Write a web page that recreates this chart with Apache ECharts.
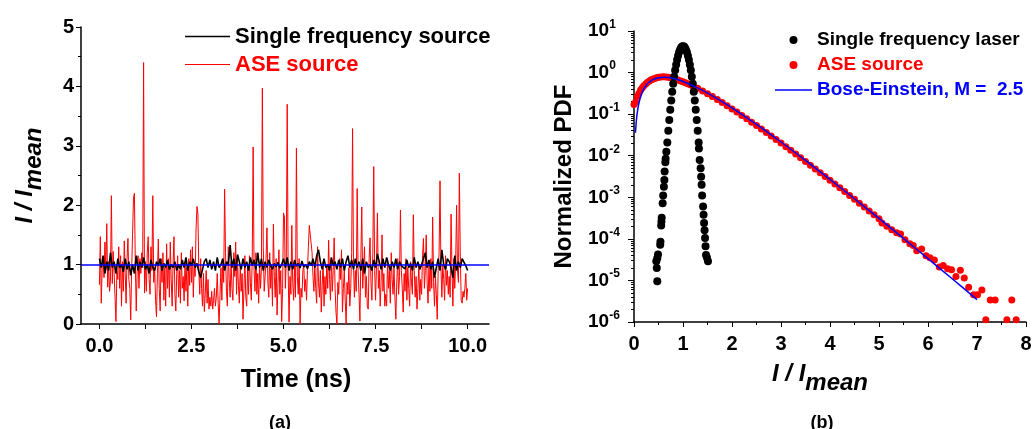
<!DOCTYPE html>
<html><head><meta charset="utf-8">
<script src="https://cdn.jsdelivr.net/npm/echarts@6/dist/echarts.min.js"></script>
<style>html,body{margin:0;padding:0;background:#fff}#c{width:1035px;height:429px}</style>
</head><body><div id="c"></div>
<script>
// ---------- Panel (a): time traces ----------
const aseStep = 0.025; // ns between ASE samples
const aseValues = [
  0.66,1.47,0.35,0.95,1.12,0.78,1.38,0.92,1.69,0.62,1.05,0.55,0.72,2.16,0.68,1.22,0.85,0.45,0.04,0.9,
  0.75,1.3,0.6,1.15,0.3,1.05,0.55,1.4,0.85,0.35,1.1,1.44,0.75,0.6,0.07,0.9,1.5,2.12,2.2,1.0,
  0.22,0.9,1.15,0.6,1.1,0.85,1.2,0.95,4.40,0.52,1.05,0.55,1.2,1.47,0.75,0.5,1.3,0.9,2.16,0.7,
  0.95,0.4,0.12,0.85,1.43,0.6,0.22,1.1,0.7,1.2,0.4,0.95,0.3,1.35,0.6,1.1,0.45,1.38,0.75,0.3,
  1.0,1.47,0.5,0.22,0.85,1.15,0.45,0.9,0.35,1.2,0.6,0.8,0.39,1.05,0.55,0.95,0.3,1.1,0.65,1.25,
  0.7,1.3,0.45,1.0,0.8,1.6,1.98,1.85,0.9,0.5,1.1,0.6,0.3,0.85,0.21,0.5,0.9,0.35,0.75,0.25,
  0.45,0.3,0.55,0.25,0.4,0.6,0.3,0.45,0.85,0.35,0.0,0.5,0.95,0.4,1.1,0.7,2.27,1.2,0.55,0.3,
  1.3,0.75,0.45,1.05,0.6,0.4,1.2,0.8,1.38,0.5,1.1,0.65,0.35,1.0,0.55,0.85,0.08,0.6,1.15,0.45,
  0.3,0.95,0.5,1.15,0.7,0.4,1.1,2.98,0.9,0.55,1.2,0.5,0.85,0.35,1.0,0.6,0.95,3.97,1.3,0.55,
  0.8,1.1,1.62,0.7,0.45,1.2,0.6,1.0,0.3,1.68,0.8,0.45,1.1,0.15,0.7,1.25,0.5,0.9,0.04,0.6,
  1.87,1.8,0.6,1.1,3.70,0.9,0.03,0.8,0.5,1.66,0.7,0.4,1.0,0.45,2.96,0.8,0.5,1.1,0.0,0.6,
  0.45,0.9,1.0,0.55,0.75,0.4,0.9,1.3,1.66,1.69,1.65,1.2,0.8,0.55,1.0,0.6,0.35,1.3,0.7,0.45,
  0.9,0.2,0.65,1.05,0.3,0.8,0.5,1.0,0.6,1.41,0.75,0.4,1.1,0.55,0.9,1.45,0.6,0.2,0.0,0.7,
  0.5,1.1,0.75,1.25,0.2,0.6,0.9,0.4,0.0,0.7,0.5,0.95,0.3,0.6,1.2,3.29,1.0,0.45,0.9,0.55,
  2.28,0.9,0.5,0.05,1.1,1.97,0.6,0.95,1.3,0.45,0.8,0.3,0.25,1.1,1.45,0.7,0.4,1.2,2.65,0.9,
  0.4,1.0,1.87,0.6,0.9,0.3,0.7,1.5,0.55,0.85,0.3,0.5,0.3,1.1,0.6,0.9,0.35,1.2,0.75,0.5,
  0.95,0.45,0.08,0.7,1.1,0.5,0.8,1.92,0.9,0.6,0.2,0.85,0.55,1.1,0.4,0.95,0.6,0.3,1.05,0.7,
  0.5,1.84,0.9,0.45,0.8,0.25,0.6,1.0,0.4,0.75,0.5,1.15,1.44,0.6,0.9,1.5,0.7,0.35,1.0,0.55,
  1.1,0.6,1.8,0.7,0.3,0.8,0.5,0.08,0.9,1.2,2.41,0.95,0.45,1.0,0.75,0.4,1.15,0.65,0.9,0.5,
  0.8,0.45,1.85,0.9,0.3,1.1,0.6,1.05,2.0,0.9,0.7,2.54,1.2,0.4,0.35,0.55,0.45,0.6,0.85,0.4,
  0.6
];
const singleStep = 0.05; // ns between single-frequency samples
const singleValues = [
  1.1,0.95,1.15,0.85,1.05,0.9,1.2,0.95,1.05,0.85,1.1,0.95,1.0,0.88,1.1,0.92,1.05,0.82,1.0,0.85,
  1.15,0.9,1.05,0.95,1.12,0.92,1.0,0.85,1.08,0.95,0.9,1.05,0.98,1.1,0.9,1.02,0.95,1.08,0.92,1.0,
  0.95,1.05,0.9,1.0,0.92,1.08,0.95,1.12,0.9,1.05,0.98,1.1,0.95,1.02,0.88,0.78,0.92,1.05,1.1,0.95,
  1.08,0.92,1.05,0.9,1.12,0.95,1.0,1.1,0.9,1.05,1.0,1.33,0.95,1.1,0.9,1.17,1.05,0.92,1.1,0.95,
  1.05,0.9,1.12,0.98,1.08,0.92,1.2,0.95,1.1,0.9,1.05,0.95,1.08,0.98,0.92,1.02,0.96,1.04,0.94,1.0,
  1.1,0.95,1.12,0.9,1.05,0.92,1.08,0.97,1.02,0.94,1.06,0.96,1.0,0.93,1.05,0.98,1.1,0.95,1.15,1.25,
  1.05,0.92,1.1,0.95,1.0,0.9,1.12,0.98,1.05,0.92,1.08,0.95,1.1,0.9,1.05,1.15,0.95,1.08,0.92,1.1,
  0.95,1.05,0.9,1.1,0.85,1.05,0.95,1.0,0.9,1.08,0.95,1.18,1.05,0.92,1.1,0.95,1.12,1.0,0.9,1.05,
  0.95,1.1,0.92,1.05,0.98,1.0,0.93,1.08,0.95,1.02,0.9,1.12,0.95,1.05,0.92,1.0,0.97,1.2,0.95,1.08,
  0.92,1.05,0.78,0.95,1.1,0.9,1.25,1.0,0.92,1.1,1.05,0.95,0.78,1.15,0.9,1.05,0.95,1.1,1.12,0.98,
  0.9
];
const meanLevel = 1;
const timeLabels = [0, 2.5, 5, 7.5, 10];
const timeTicks = [0, 1.25, 2.5, 3.75, 5, 6.25, 7.5, 8.75, 10];

// ---------- Panel (b): PDFs ----------
const laserPoints = [
  [0.475,9.5e-6],[0.455,2.9e-5],[0.465,2.0e-5],[0.475,3.4e-5],[0.49,4.2e-5],[0.535,7.2e-5],[0.54,8.5e-5],
  [0.555,2.1e-4],[0.56,2.6e-4],[0.565,3.2e-4],[0.585,7.2e-4],[0.595,1.1e-3],[0.61,1.8e-3],[0.62,2.6e-3],
  [0.625,4.2e-3],[0.64,7.0e-3],[0.645,8.5e-3],[0.66,0.0125],
  [0.68,0.0208],[0.70,0.0396],[0.72,0.0725],[0.74,0.127],[0.76,0.214],[0.78,0.345],[0.80,0.535],
  [0.82,0.795],[0.84,1.13],[0.86,1.55],[0.88,2.03],[0.90,2.55],[0.92,3.08],[0.94,3.56],[0.96,3.96],
  [0.98,4.21],[1.00,4.3],[1.02,4.21],[1.04,3.96],[1.06,3.56],[1.08,3.08],[1.10,2.55],[1.12,2.03],
  [1.14,1.55],[1.16,1.13],[1.18,0.795],[1.20,0.535],[1.22,0.345],[1.24,0.214],[1.26,0.127],[1.28,0.0725],
  [1.30,0.0396],[1.32,0.0208],
  [1.325,0.015],[1.34,7.9e-3],[1.36,5e-3],[1.37,3.1e-3],[1.38,2e-3],[1.39,1.1e-3],[1.41,6e-4],[1.42,3.8e-4],
  [1.43,2.4e-4],[1.44,1.6e-4],[1.45,1.05e-4],[1.46,6.6e-5],[1.47,4.1e-5],[1.49,3.5e-5],[1.51,2.9e-5]
];
const asePdfPoints = [
  [0.0,0.17],[0.035,0.2],[0.07,0.27],[0.1,0.32],[0.135,0.38],[0.17,0.43],[0.2,0.48],[0.24,0.53],[0.27,0.58],
  [0.31,0.62],[0.34,0.66],[0.38,0.69],[0.42,0.72],[0.46,0.75],[0.5,0.77],[0.55,0.78],[0.6,0.79],[0.65,0.78],
  [0.7,0.77],[0.75,0.75],[0.8,0.72],[0.85,0.69],[0.9,0.66],[0.95,0.63],[1.0,0.6],[1.05,0.57],[1.1,0.54],
  [1.15,0.51],[1.2,0.475],[1.3,0.42],[1.4,0.36],[1.5,0.31],[1.6,0.265],[1.7,0.225],[1.8,0.19],[1.9,0.16],
  [2.0,0.133],[2.1,0.112],[2.2,0.093],[2.3,0.078],[2.4,0.064],[2.5,0.053],[2.6,0.044],[2.7,0.036],
  [2.8,0.0298],[2.9,0.0245],[3.0,0.0201],[3.1,0.0164],[3.2,0.0135],[3.3,0.0110],[3.4,0.0089],[3.5,0.0073],
  [3.6,0.0059],[3.7,0.0048],[3.8,0.0039],[3.9,0.00318],[4.0,0.00258],[4.1,0.00210],[4.2,0.00170],
  [4.3,0.00137],[4.4,0.00111],[4.5,0.00090],[4.6,0.00072],[4.7,0.00058],[4.8,0.00047],[4.9,0.00038],
  [5.0,0.000305],[5.06,2.4e-4],[5.16,2.0e-4],[5.26,1.65e-4],[5.36,1.4e-4],[5.44,1.3e-4],[5.53,9.5e-5],
  [5.63,7.6e-5],[5.70,6.9e-5],[5.77,5.2e-5],[5.87,5.7e-5],[5.96,3.9e-5],[6.04,3.5e-5],[6.13,3.1e-5],
  [6.23,2.1e-5],[6.31,2.3e-5],[6.40,1.9e-5],[6.48,1.8e-5],[6.57,1.25e-5],[6.66,1.75e-5],[6.74,1.15e-5],
  [6.83,6.9e-6],[6.93,4.5e-6],[7.01,4.5e-6],[7.10,5.9e-6],[7.18,1.14e-6],[7.27,3.4e-6],[7.37,3.4e-6],
  [7.61,1.14e-6],[7.71,3.4e-6],[7.80,1.14e-6]
];
const boseEinsteinPoints = [
  [0.03,0.0358],[0.05,0.0733],[0.075,0.1266],[0.1,0.1831],[0.15,0.2968],[0.2,0.4033],[0.25,0.4974],
  [0.3,0.577],[0.4,0.6919],[0.5,0.7531],[0.6,0.771],[0.7,0.7566],[0.8,0.7198],[0.9,0.669],[1.0,0.6102],
  [1.2,0.4866],[1.4,0.3719],[1.6,0.2756],[1.8,0.1994],[2.0,0.1417],[2.5,0.0567],[3.0,0.02137],
  [3.5,0.00771],[4.0,0.0027],[4.5,9.23e-4],[5.0,3.10e-4],[5.5,1.024e-4],[6.0,3.34e-5],[6.5,1.08e-5],[7.0,3.46e-6]
];

const FONT = "'Liberation Sans', Arial, sans-serif";
const aseData = aseValues.map((v, i) => [i * aseStep, v]);
const singleData = singleValues.map((v, i) => [i * singleStep, v]);

const tickLabel = { color: '#000', fontFamily: FONT, fontWeight: 'bold', fontSize: 20 };
const italicRich = {
  i: { fontFamily: FONT, fontWeight: 'bold', fontStyle: 'italic', fontSize: 24, color: '#000', padding: [0, 0, 9, 0] },
  m: { fontFamily: FONT, fontWeight: 'bold', fontStyle: 'italic', fontSize: 24, color: '#000', padding: [9, 0, 0, 0] }
};

const chart = echarts.init(document.getElementById('c'), null, { renderer: 'canvas' });
chart.setOption({
  backgroundColor: '#fff',
  animation: false,
  title: [
    { text: '(a)', left: 275, top: 409, textAlign: 'center',
      textStyle: { fontFamily: FONT, fontWeight: 'bold', fontSize: 18, color: '#000' } },
    { text: '(b)', left: 817, top: 409, textAlign: 'center',
      textStyle: { fontFamily: FONT, fontWeight: 'bold', fontSize: 18, color: '#000' } }
  ],
  legend: [
    { orient: 'vertical', left: 180, top: 20, itemWidth: 45, itemHeight: 12, itemGap: 5,
      textStyle: { fontFamily: FONT, fontWeight: 'bold', fontSize: 22, lineHeight: 23 },
      data: [
        { name: 'Single frequency source', icon: 'path://M0,0H45V1.6H0Z', textStyle: { color: '#000' } },
        { name: 'ASE source', icon: 'path://M0,0H45V1.2H0Z', textStyle: { color: '#ff0000' } }
      ] },
    { orient: 'vertical', left: 770, top: 25, itemWidth: 37, itemHeight: 8, itemGap: 5,
      textStyle: { fontFamily: FONT, fontWeight: 'bold', fontSize: 19, lineHeight: 20 },
      data: [
        { name: 'Single frequency laser', icon: 'circle', textStyle: { color: '#000' } },
        { name: 'ASE source ', icon: 'circle', textStyle: { color: '#ff0000' } },
        { name: 'Bose-Einstein, M =  2.5', icon: 'path://M0,0H37V1.5H0Z', textStyle: { color: '#0000ff' } }
      ] }
  ],
  grid: [
    { left: 81, top: 27, width: 408, height: 297 },
    { left: 634, top: 31, width: 392, height: 291 }
  ],
  xAxis: [
    { type: 'value', gridIndex: 0, min: -0.5, max: 10.58,
      axisLine: { onZero: false, lineStyle: { color: '#000', width: 1.5 } }, splitLine: { show: false },
      axisTick: { show: true, length: 5, customValues: timeTicks, lineStyle: { color: '#000' } },
      axisLabel: Object.assign({}, tickLabel, { margin: 12, customValues: timeLabels,
        formatter: v => v.toFixed(1) }),
      name: 'Time (ns)', nameLocation: 'middle', nameGap: 44,
      nameTextStyle: { fontFamily: FONT, fontWeight: 'bold', fontSize: 25, color: '#000', padding: [0, 0, 0, 22] } },
    { type: 'value', gridIndex: 1, min: 0, max: 8, interval: 1,
      axisLine: { onZero: false, lineStyle: { color: '#000', width: 1.5 } }, splitLine: { show: false },
      axisTick: { length: 5, lineStyle: { color: '#000' } },
      minorTick: { show: true, splitNumber: 2, length: 3, lineStyle: { color: '#000' } },
      axisLabel: Object.assign({}, tickLabel, { margin: 12 }),
      name: '{i|I / I}{m|mean}', nameLocation: 'middle', nameGap: 40,
      nameTextStyle: { rich: italicRich, padding: [0, 20, 0, 0] } }
  ],
  yAxis: [
    { type: 'value', gridIndex: 0, min: 0, max: 5, interval: 1,
      axisLine: { show: true, onZero: false, lineStyle: { color: '#000', width: 1.5 } }, splitLine: { show: false },
      axisTick: { show: true, length: 5, lineStyle: { color: '#000' } },
      minorTick: { show: true, splitNumber: 2, length: 3, lineStyle: { color: '#000' } },
      axisLabel: Object.assign({}, tickLabel, { margin: 7 }),
      name: '{i|I / I}{m|mean}', nameLocation: 'middle', nameGap: 35, nameRotate: 90,
      nameTextStyle: { rich: italicRich } },
    { type: 'log', gridIndex: 1, logBase: 10, min: 1e-6, max: 10, interval: 1,
      axisLine: { show: true, onZero: false, lineStyle: { color: '#000', width: 1.5 } }, splitLine: { show: false },
      axisTick: { show: true, length: 6, lineStyle: { color: '#000' } },
      minorTick: { show: true, splitNumber: 9, length: 3, lineStyle: { color: '#000' } },
      axisLabel: { align: 'left', margin: 46, color: '#000',
        formatter: v => '{b|10}{s|' + Math.round(Math.log10(v)) + '}',
        rich: {
          b: { fontFamily: FONT, fontWeight: 'bold', fontSize: 19, color: '#000' },
          s: { fontFamily: FONT, fontWeight: 'bold', fontSize: 12, color: '#000', padding: [0, 0, 13, 0] }
        } },
      name: 'Normalized PDF', nameLocation: 'middle', nameGap: 58, nameRotate: 90,
      nameTextStyle: { fontFamily: FONT, fontWeight: 'bold', fontSize: 24, color: '#000' } }
  ],
  series: [
    { name: 'ASE source', type: 'line', xAxisIndex: 0, yAxisIndex: 0, data: aseData,
      symbol: 'none', lineStyle: { color: '#ff0000', width: 1 }, itemStyle: { color: '#ff0000' }, z: 2 },
    { name: 'Single frequency source', type: 'line', xAxisIndex: 0, yAxisIndex: 0, data: singleData,
      symbol: 'none', lineStyle: { color: '#000', width: 1.6 }, itemStyle: { color: '#000' }, z: 3,
      markLine: { silent: true, symbol: 'none', label: { show: false },
        lineStyle: { color: '#0000ff', width: 1.5, type: 'solid' },
        data: [{ yAxis: meanLevel }] } },
    { name: 'ASE source ', type: 'scatter', xAxisIndex: 1, yAxisIndex: 1, data: asePdfPoints,
      symbol: 'circle', symbolSize: 7, itemStyle: { color: '#ff0000', opacity: 1 }, z: 2 },
    { name: 'Single frequency laser', type: 'scatter', xAxisIndex: 1, yAxisIndex: 1, data: laserPoints,
      symbol: 'circle', symbolSize: 8, itemStyle: { color: '#000', opacity: 1 }, z: 3 },
    { name: 'Bose-Einstein, M =  2.5', type: 'line', xAxisIndex: 1, yAxisIndex: 1, data: boseEinsteinPoints,
      symbol: 'none', smooth: 0.3, lineStyle: { color: '#0000ff', width: 1.5 }, itemStyle: { color: '#0000ff' }, z: 4 }
  ]
});
</script></body></html>
